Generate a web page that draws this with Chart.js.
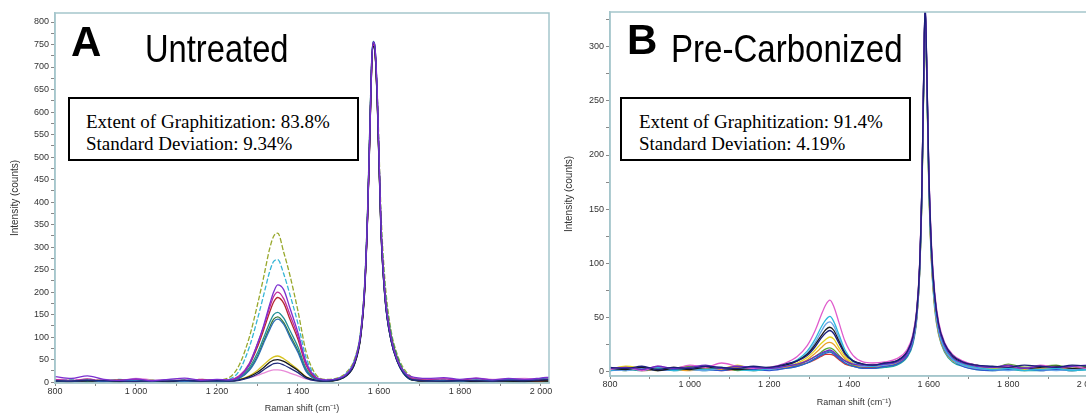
<!DOCTYPE html>
<html>
<head>
<meta charset="utf-8">
<script src="https://cdn.jsdelivr.net/npm/chart.js@4.4.1/dist/chart.umd.min.js"></script>
<style>
  html, body { margin: 0; padding: 0; background: #fff; width: 1086px; height: 414px; overflow: hidden; position: relative; }
  .panel { position: absolute; top: 0; height: 414px; }
  .tag { position: absolute; font-family: "Liberation Sans", Arial, sans-serif; color: #000; line-height: 1; white-space: nowrap; }
  .letter { font-weight: bold; font-size: 42px; }
  .name { font-size: 38px; transform-origin: 0 0; transform: scaleX(0.86); }
  .box { position: absolute; border: 2px solid #000; background: #fff; box-sizing: border-box;
         font-family: "Liberation Serif", "Times New Roman", serif; font-size: 19px; line-height: 22px; padding: 12px 0 0 16px; white-space: nowrap; }
</style>
</head>
<body>
<div class="panel" style="left:0;width:556px"><canvas id="chartA" width="556" height="414"></canvas></div>
<div class="panel" style="left:555px;width:560px"><canvas id="chartB" width="560" height="414"></canvas></div>

<div class="tag letter" style="left:71px;top:21px">A</div>
<div class="tag name" style="left:145px;top:30px">Untreated</div>
<div class="box" style="left:68px;top:97px;width:291px;height:64px">Extent of Graphitization: 83.8%<br>Standard Deviation: 9.34%</div>

<div class="tag letter" style="left:627px;top:19px">B</div>
<div class="tag name" style="left:671px;top:30px;transform:scaleX(0.87)">Pre-Carbonized</div>
<div class="box" style="left:620px;top:97px;width:291px;height:64px;padding-left:17px">Extent of Graphitization: 91.4%<br>Standard Deviation: 4.19%</div>

<script>
// ---- panel A : untreated ----
const ramanShiftA = [800, 840, 880, 920, 960, 1000, 1040, 1080, 1120, 1160, 1200,
  1230, 1255, 1280, 1300, 1315, 1330, 1340, 1350, 1365, 1380,
  1400, 1420, 1445, 1470, 1500, 1520, 1540, 1555, 1565, 1572,
  1578, 1582, 1586, 1590, 1596, 1605, 1615, 1630, 1645, 1660,
  1680, 1720, 1760, 1800, 1840, 1880, 1920, 1960, 2000, 2020];

const untreatedPurple = [12, 8, 14, 6, 4, 7, 3, 6, 9, 4, 6,
  5, 12, 40, 85, 125, 172, 200, 216, 205, 165,
  110, 45, 10, 5, 8, 18, 46, 108, 215, 372,
  570, 705, 755, 745, 640, 350, 195, 98, 50, 25,
  12, 8, 10, 6, 9, 5, 8, 6, 9, 11];
const untreatedNavy = [3, 2, 4, 3, 2, 1, 3, 2, 4, 2, 3,
  2, 4, 10, 18, 27, 36, 41, 42, 38, 31,
  21, 9, 3, 2, 6, 15, 42, 104, 212, 374,
  575, 710, 755, 745, 628, 338, 186, 92, 46, 20,
  6, 3, 2, 4, 3, 2, 4, 3, 5, 6];
const untreatedBlue = [3, 2, 5, 1, 4, 3, 2, 5, 1, 3, 2,
  3, 8, 26, 55, 86, 116, 134, 140, 128, 100,
  66, 24, 6, 3, 7, 17, 46, 110, 222, 385,
  588, 715, 757, 748, 632, 345, 188, 94, 48, 22,
  6, 3, 4, 2, 5, 3, 6, 4, 8, 10];
const untreatedBlack = [2, 1, 3, 2, 1, 3, 2, 1, 2, 3, 2,
  2, 5, 12, 22, 32, 44, 49, 50, 46, 38,
  26, 11, 4, 2, 5, 14, 40, 100, 205, 365,
  562, 698, 746, 736, 618, 335, 186, 92, 47, 22,
  5, 2, 3, 2, 1, 3, 2, 1, 3, 2];
const untreatedMagenta = [6, 3, 7, 2, 4, 6, 3, 5, 2, 6, 4,
  5, 14, 42, 85, 122, 165, 190, 200, 185, 150,
  102, 40, 10, 4, 8, 17, 45, 106, 212, 370,
  568, 702, 748, 740, 628, 345, 192, 96, 49, 24,
  9, 5, 7, 4, 8, 3, 6, 5, 7, 6];
const untreatedRed = [3, 1, 4, 2, 5, 1, 3, 2, 4, 1, 3,
  4, 12, 38, 78, 115, 155, 178, 188, 175, 140,
  95, 38, 8, 3, 7, 16, 44, 104, 210, 368,
  565, 700, 750, 738, 620, 340, 190, 95, 48, 22,
  6, 2, 4, 1, 3, 2, 4, 3, 2, 5];
const untreatedTeal = [2, 4, 1, 3, 2, 5, 1, 3, 2, 4, 1,
  3, 10, 32, 65, 98, 132, 150, 155, 142, 115,
  78, 30, 7, 3, 6, 15, 42, 102, 205, 365,
  560, 698, 745, 735, 615, 335, 185, 92, 46, 20,
  5, 2, 3, 1, 4, 2, 3, 1, 4, 3];
const untreatedGreen = [1, 3, 2, 4, 1, 2, 4, 1, 3, 2, 1,
  3, 9, 28, 58, 90, 122, 140, 145, 132, 105,
  70, 26, 6, 2, 6, 16, 44, 106, 214, 375,
  575, 708, 750, 740, 625, 350, 200, 105, 56, 26,
  7, 2, 1, 3, 2, 4, 1, 2, 3, 2];
const untreatedYellow = [2, 4, 1, 3, 5, 2, 4, 1, 3, 2, 4,
  3, 6, 14, 26, 38, 50, 56, 58, 52, 42,
  28, 12, 4, 2, 6, 15, 42, 104, 212, 372,
  570, 703, 748, 738, 622, 340, 190, 96, 50, 24,
  6, 2, 3, 1, 4, 2, 3, 2, 1, 3];
const untreatedCyan = [2, 5, 1, 3, 6, 2, 4, 1, 5, 3, 2,
  6, 25, 78, 140, 192, 245, 268, 272, 240, 195,
  130, 55, 12, 4, 9, 20, 50, 112, 220, 380,
  580, 710, 752, 742, 630, 360, 210, 108, 58, 28,
  10, 3, 5, 2, 4, 1, 3, 5, 2, 4];
const untreatedOlive = [4, 2, 6, 3, 1, 5, 2, 4, 3, 6, 5,
  10, 38, 100, 172, 232, 296, 324, 331, 288, 238,
  158, 68, 16, 6, 10, 22, 52, 115, 225, 385,
  585, 712, 748, 735, 640, 380, 225, 115, 62, 32,
  12, 4, 2, 5, 3, 1, 4, 2, 3, 5];
const untreatedPink = [5, 7, 3, 6, 4, 8, 5, 3, 6, 4, 5,
  4, 6, 10, 15, 20, 25, 27, 27, 25, 20,
  14, 7, 4, 3, 8, 16, 44, 106, 214, 372,
  568, 700, 746, 735, 622, 345, 195, 98, 50, 25,
  10, 6, 8, 5, 9, 6, 7, 8, 6, 9];

const spectraA = [untreatedPurple, untreatedNavy, untreatedBlue, untreatedBlack, untreatedMagenta, untreatedRed,
  untreatedTeal, untreatedGreen, untreatedYellow, untreatedCyan, untreatedOlive, untreatedPink];
const coloursA = ['#7b2fd0', '#1f2a7a', '#2d6fb5', '#1a1a1a', '#c22a9a', '#b3262f',
  '#1f8f95', '#3c7a3a', '#d6c21e', '#35b5d6', '#98a82c', '#e88ad8'];

// ---- panel B : pre-carbonized ----
const ramanShiftB = [800, 840, 880, 920, 960, 1000, 1040, 1080, 1120, 1160, 1200,
  1240, 1270, 1295, 1315, 1330, 1342, 1352, 1362, 1375, 1390,
  1410, 1435, 1460, 1490, 1520, 1545, 1560, 1570, 1577, 1583,
  1587, 1591, 1595, 1600, 1607, 1615, 1625, 1640, 1660, 1685,
  1720, 1760, 1800, 1840, 1880, 1920, 1960, 2000, 2025];

const carbNavy = [4, 3, 5, 2, 4, 3, 5, 4, 3, 5, 4,
  7, 10, 15, 23, 31, 36, 38, 35, 26, 16,
  10, 7, 6, 8, 10, 18, 32, 56, 96, 172,
  262, 340, 284, 190, 114, 71, 44, 26, 15, 9,
  6, 5, 4, 6, 5, 4, 6, 5, 4];
const carbPurple = [3, 4, 2, 5, 3, 4, 6, 3, 5, 4, 3,
  5, 7, 10, 14, 17, 19, 20, 18, 14, 10,
  7, 6, 6, 7, 9, 16, 30, 54, 95, 172,
  262, 340, 286, 190, 114, 70, 42, 24, 13, 8,
  5, 4, 6, 3, 5, 4, 5, 6, 4];
const carbMagenta = [2, 4, 1, 5, 3, 6, 4, 8, 5, 3, 4,
  8, 14, 24, 38, 52, 62, 66, 60, 45, 28,
  15, 9, 8, 9, 12, 20, 34, 58, 98, 175,
  265, 338, 285, 192, 118, 74, 46, 27, 16, 10,
  6, 4, 5, 3, 6, 4, 5, 3, 4];
const carbBlack = [3, 2, 4, 1, 3, 2, 4, 3, 2, 3, 4,
  6, 10, 16, 25, 33, 39, 41, 38, 28, 17,
  10, 7, 6, 8, 10, 18, 32, 56, 96, 172,
  262, 337, 282, 188, 112, 70, 43, 25, 14, 9,
  6, 4, 5, 3, 4, 5, 3, 4, 5];
const carbCyan = [1, 3, 2, 4, 1, 3, 2, 4, 2, 1, 3,
  6, 11, 19, 30, 41, 48, 51, 46, 34, 20,
  10, 6, 5, 7, 9, 17, 30, 54, 94, 170,
  260, 336, 280, 184, 108, 66, 40, 22, 12, 7,
  4, 2, 3, 1, 2, 3, 1, 2, 1];
const carbLightBlue = [2, 1, 3, 2, 4, 2, 1, 3, 2, 4, 2,
  5, 10, 17, 27, 37, 44, 46, 42, 31, 18,
  9, 5, 5, 6, 9, 16, 29, 52, 92, 168,
  258, 334, 278, 182, 106, 64, 38, 21, 11, 6,
  3, 2, 1, 3, 2, 1, 2, 3, 1];
const carbBlue = [1, 2, 3, 1, 2, 3, 2, 1, 3, 2, 1,
  3, 5, 8, 12, 15, 17, 18, 16, 12, 8,
  5, 3, 3, 5, 7, 14, 27, 50, 90, 166,
  257, 336, 279, 182, 106, 63, 37, 20, 11, 5,
  2, 1, 2, 3, 1, 2, 1, 3, 2];
const carbYellow = [2, 5, 3, 1, 4, 2, 5, 3, 6, 2, 3,
  5, 8, 13, 20, 26, 30, 32, 30, 22, 14,
  8, 6, 6, 7, 9, 16, 29, 52, 92, 166,
  255, 333, 276, 180, 104, 62, 37, 20, 11, 7,
  5, 3, 6, 2, 4, 3, 5, 2, 4];
const carbOrange = [1, 3, 2, 4, 2, 1, 3, 2, 4, 1, 3,
  4, 7, 11, 17, 22, 26, 27, 25, 19, 12,
  7, 5, 5, 6, 8, 15, 28, 50, 90, 164,
  254, 333, 275, 178, 102, 60, 35, 19, 10, 6,
  3, 2, 4, 1, 3, 2, 1, 3, 2];
const carbGreen = [3, 1, 4, 2, 3, 5, 2, 4, 1, 3, 2,
  4, 6, 10, 14, 18, 21, 22, 20, 15, 10,
  6, 5, 6, 7, 9, 16, 29, 52, 92, 168,
  258, 335, 278, 182, 106, 64, 38, 22, 13, 8,
  6, 3, 7, 4, 5, 6, 3, 5, 4];
const carbTeal = [1, 2, 1, 3, 1, 2, 1, 2, 3, 1, 2,
  3, 5, 8, 12, 16, 18, 19, 17, 13, 8,
  5, 3, 3, 4, 6, 13, 25, 48, 88, 162,
  252, 332, 274, 176, 100, 58, 34, 18, 9, 5,
  2, 1, 2, 1, 1, 2, 1, 2, 1];
const carbRed = [2, 3, 1, 2, 4, 2, 3, 1, 2, 3, 2,
  4, 6, 8, 11, 14, 16, 16, 15, 11, 7,
  5, 4, 4, 5, 7, 14, 27, 50, 90, 165,
  256, 334, 276, 180, 104, 62, 36, 20, 11, 6,
  3, 2, 3, 4, 2, 3, 2, 4, 3];

const spectraB = [carbNavy, carbPurple, carbMagenta, carbBlack, carbCyan, carbLightBlue,
  carbBlue, carbYellow, carbOrange, carbGreen, carbTeal, carbRed];
const coloursB = ['#1b1f7a', '#6a2bc4', '#e05ccc', '#1a1a1a', '#2cb7dc', '#6aa5e6',
  '#2f55d0', '#e3d21c', '#eaa02a', '#58a832', '#1ea5a0', '#d33a2f'];

// ---- shared drawing bits ----
const FRAME = '#a5c6cc';
const TICK_FONT = { family: '"Liberation Sans", Arial, sans-serif', size: 9 };

function fmtShift(v) {
  if (v % 200 !== 0) return '';
  if (v < 1000) return String(v);
  return Math.floor(v / 1000) + ' ' + String(v % 1000).padStart(3, '0');
}

const framePlugin = {
  id: 'frame',
  afterDraw(chart) {
    const a = chart.chartArea, ctx = chart.ctx;
    ctx.save();
    ctx.strokeStyle = FRAME;
    ctx.lineWidth = 1.5;
    ctx.strokeRect(a.left, a.top, a.right - a.left, a.bottom - a.top);
    ctx.restore();
  }
};

function makeChart(id, xs, spectra, colours, o) {
  const datasets = spectra.map((vals, i) => ({
    data: xs.map((x, j) => ({ x: x, y: vals[j] })),
    borderColor: colours[i],
    borderWidth: 1.3,
    pointRadius: 0,
    showLine: true,
    cubicInterpolationMode: 'monotone',
    borderDash: o.dashed.includes(i) ? [5, 2] : []
  }));
  return new Chart(document.getElementById(id), {
    type: 'scatter',
    data: { datasets: datasets },
    plugins: [framePlugin],
    options: {
      responsive: false,
      devicePixelRatio: 1,
      animation: false,
      layout: { padding: { top: o.top, right: o.right, left: 0, bottom: 0 } },
      plugins: { legend: { display: false }, tooltip: { enabled: false } },
      scales: {
        x: {
          type: 'linear', min: 800, max: o.xMax,
          afterFit: s => { s.height = o.xHeight; },
          ticks: { stepSize: 100, autoSkip: false, maxRotation: 0, includeBounds: false,
                   callback: v => fmtShift(v), font: TICK_FONT, color: '#333', padding: 0 },
          grid: { drawOnChartArea: false, tickLength: 3, tickColor: '#888' },
          border: { color: FRAME, width: 1.5 },
          title: { display: true, text: 'Raman shift (cm⁻¹)', color: '#333',
                   font: { family: '"Liberation Sans", Arial, sans-serif', size: 9 },
                   padding: { top: 0, bottom: o.xTitlePad } }
        },
        y: {
          min: o.yMin, max: o.yMax,
          afterFit: s => { s.width = 55; },
          ticks: { stepSize: 25, autoSkip: false, includeBounds: false,
                   callback: v => (v % 50 === 0 ? String(v) : ''), font: TICK_FONT, color: '#333', padding: 2 },
          grid: { drawOnChartArea: false, tickLength: 4, tickColor: '#888' },
          border: { color: FRAME, width: 1.5 },
          title: { display: true, text: 'Intensity (counts)', color: '#333',
                   font: { family: '"Liberation Sans", Arial, sans-serif', size: 10 },
                   padding: { top: o.yTitlePad, bottom: 0 } }
        }
      }
    }
  });
}

makeChart('chartA', ramanShiftA, spectraA, coloursA,
  { top: 13, right: 7, xMax: 2020, yMin: -2, yMax: 820, xHeight: 31, xTitlePad: 0, yTitlePad: 9, dashed: [9, 10] });
makeChart('chartB', ramanShiftB, spectraB, coloursB,
  { top: 12, right: 17, xMax: 2025, yMin: -4, yMax: 332, xHeight: 38, xTitlePad: 6, yTitlePad: 8, dashed: [] });
</script>
</body>
</html>
